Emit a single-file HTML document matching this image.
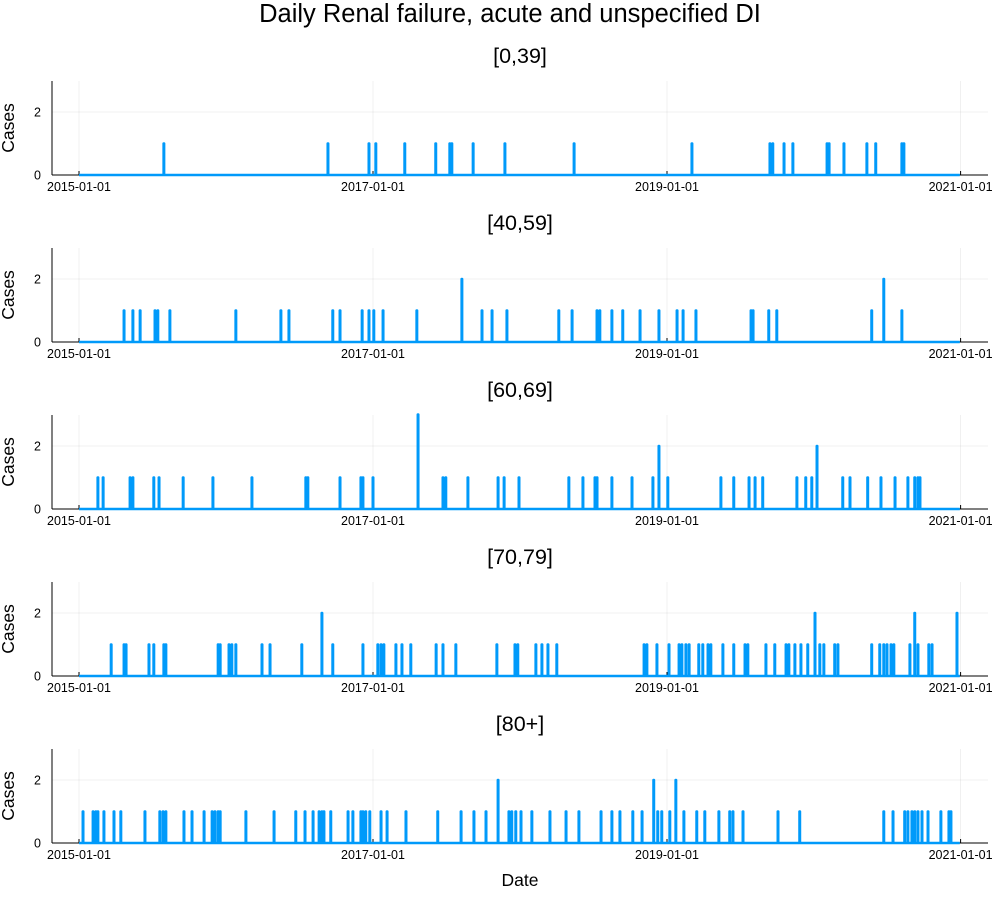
<!DOCTYPE html>
<html><head><meta charset="utf-8"><style>
body{margin:0;background:#fff;font-family:"Liberation Sans",sans-serif}
svg text{font-family:"Liberation Sans",sans-serif}
</style></head><body>
<svg id="c" width="1000" height="900"></svg>
<script>
const panelTitles=["[0,39]","[40,59]","[60,69]","[70,79]","[80+]"];
const xTickLabels=["2015-01-01","2017-01-01","2019-01-01","2021-01-01"];
const xTickDays=[0,731,1462,2192];
const yTicks=[0,2];
const p1=[[211,1],[619,1],[721,1],[738,1],[810,1],[887,1],[922,1],[927,1],[980,1],[1059,1],[1231,1],[1524,1],[1718,1],[1725,1],[1753,1],[1775,1],[1860,1],[1865,1],[1902,1],[1959,1],[1981,1],[2046,1],[2051,1]];
const p2=[[112,1],[134,1],[152,1],[189,1],[196,1],[226,1],[390,1],[502,1],[522,1],[631,1],[649,1],[704,1],[721,1],[733,1],[756,1],[840,1],[952,2],[1002,1],[1027,1],[1064,1],[1193,1],[1226,1],[1288,1],[1295,1],[1325,1],[1352,1],[1395,1],[1442,1],[1487,1],[1502,1],[1534,1],[1671,1],[1676,1],[1715,1],[1735,1],[1971,1],[2001,2],[2046,1]];
const p3=[[47,1],[60,1],[127,1],[134,1],[186,1],[199,1],[259,1],[333,1],[430,1],[564,1],[569,1],[649,1],[701,1],[706,1],[731,1],[843,3],[905,1],[912,1],[967,1],[1042,1],[1057,1],[1094,1],[1218,1],[1253,1],[1283,1],[1288,1],[1325,1],[1375,1],[1427,1],[1442,2],[1464,1],[1596,1],[1628,1],[1666,1],[1681,1],[1700,1],[1785,1],[1807,1],[1822,1],[1835,2],[1899,1],[1917,1],[1961,1],[1994,1],[2029,1],[2061,1],[2078,1],[2086,1],[2091,1]];
const p4=[[80,1],[112,1],[117,1],[174,1],[186,1],[211,1],[216,1],[346,1],[351,1],[373,1],[380,1],[390,1],[455,1],[475,1],[554,1],[604,2],[631,1],[706,1],[743,1],[751,1],[758,1],[788,1],[803,1],[825,1],[888,1],[905,1],[937,1],[1039,1],[1084,1],[1091,1],[1136,1],[1151,1],[1166,1],[1188,1],[1405,1],[1412,1],[1437,1],[1467,1],[1492,1],[1499,1],[1509,1],[1517,1],[1541,1],[1551,1],[1564,1],[1571,1],[1601,1],[1628,1],[1656,1],[1663,1],[1708,1],[1730,1],[1758,1],[1765,1],[1780,1],[1795,1],[1812,1],[1830,2],[1842,1],[1852,1],[1879,1],[1887,1],[1971,1],[1991,1],[2001,1],[2009,1],[2019,1],[2026,1],[2066,1],[2078,2],[2086,1],[2113,1],[2121,1],[2183,2]];
const p5=[[10,1],[35,1],[42,1],[47,1],[62,1],[87,1],[104,1],[164,1],[201,1],[209,1],[216,1],[261,1],[281,1],[311,1],[331,1],[338,1],[346,1],[351,1],[415,1],[485,1],[539,1],[562,1],[582,1],[597,1],[604,1],[609,1],[626,1],[669,1],[681,1],[701,1],[706,1],[713,1],[723,1],[751,1],[766,1],[813,1],[892,1],[950,1],[982,1],[1012,1],[1042,2],[1069,1],[1076,1],[1086,1],[1099,1],[1126,1],[1171,1],[1211,1],[1243,1],[1298,1],[1325,1],[1345,1],[1377,1],[1400,1],[1429,2],[1439,1],[1449,1],[1469,1],[1484,2],[1504,1],[1536,1],[1556,1],[1591,1],[1618,1],[1626,1],[1651,1],[1738,1],[1792,1],[2001,1],[2024,1],[2053,1],[2061,1],[2071,1],[2078,1],[2086,1],[2096,1],[2111,1],[2143,1],[2163,1],[2168,1]];
const series=[p1,p2,p3,p4,p5];
const endDay=2190;
const NS="http://www.w3.org/2000/svg";
const svg=document.getElementById('c');
function mk(t,a,p){const e=document.createElementNS(NS,t);for(const k in a)e.setAttribute(k,a[k]);(p||svg).appendChild(e);return e;}
const X0=52,X1=988;
function xs(d){return 79+d*(294/731);}
const t=mk('text',{x:510,y:22,'text-anchor':'middle','font-size':25.5,fill:'#000'});t.textContent="Daily Renal failure, acute and unspecified DI";


series.forEach((data,i)=>{
  const base=175+i*167;
  function ys(v){return base-v*31.5;}
  const g=mk('g',{});
  
  
  const st=mk('text',{x:520,y:base-112,'text-anchor':'middle','font-size':21.5,fill:'#000'},g);st.textContent=panelTitles[i];
  
  
  xTickDays.forEach((d,j)=>{
    mk('line',{x1:xs(d),x2:xs(d),y1:base-94,y2:base,stroke:'#000','stroke-opacity':0.1,'stroke-width':0.6},g);
    mk('line',{x1:xs(d),x2:xs(d),y1:base,y2:base-4,stroke:'#000','stroke-width':1},g);
    const tl=mk('text',{x:xs(d),y:base+16,'text-anchor':'middle','font-size':12.5,fill:'#000'},g);tl.textContent=xTickLabels[j];
    
    
  });
  yTicks.forEach(v=>{
    mk('line',{x1:X0,x2:X1,y1:ys(v),y2:ys(v),stroke:'#000','stroke-opacity':0.1,'stroke-width':0.6},g);
    const yl=mk('text',{x:X0-11,y:ys(v)+4.5,'text-anchor':'end','font-size':12.5,fill:'#000'},g);yl.textContent=v;
    
    
  });
  mk('line',{x1:X0,x2:X0,y1:base-94,y2:base,stroke:'#000','stroke-width':1},g);
  mk('line',{x1:X0,x2:X1,y1:base,y2:base,stroke:'#000','stroke-width':1},g);
  const yt=mk('text',{x:0,y:0,'text-anchor':'middle','font-size':17.5,fill:'#000',transform:`translate(14,${base-47}) rotate(-90)`},g);yt.textContent="Cases";
  
  
  let pts=[[xs(0),ys(0)]];
  data.forEach(([d,v])=>{pts.push([xs(d-0.5),ys(0)],[xs(d-0.5),ys(v)],[xs(d+0.5),ys(v)],[xs(d+0.5),ys(0)]);});
  pts.push([xs(endDay),ys(0)]);
  const pl=mk('polyline',{points:pts.map(p=>p.join(',')).join(' '),fill:'none',stroke:'#009AFA','stroke-width':2.6,'stroke-linejoin':'round'},g);
  
  
});
const xt=mk('text',{x:520,y:886,'text-anchor':'middle','font-size':17.5,fill:'#000'});xt.textContent="Date";


</script>
</body></html>
